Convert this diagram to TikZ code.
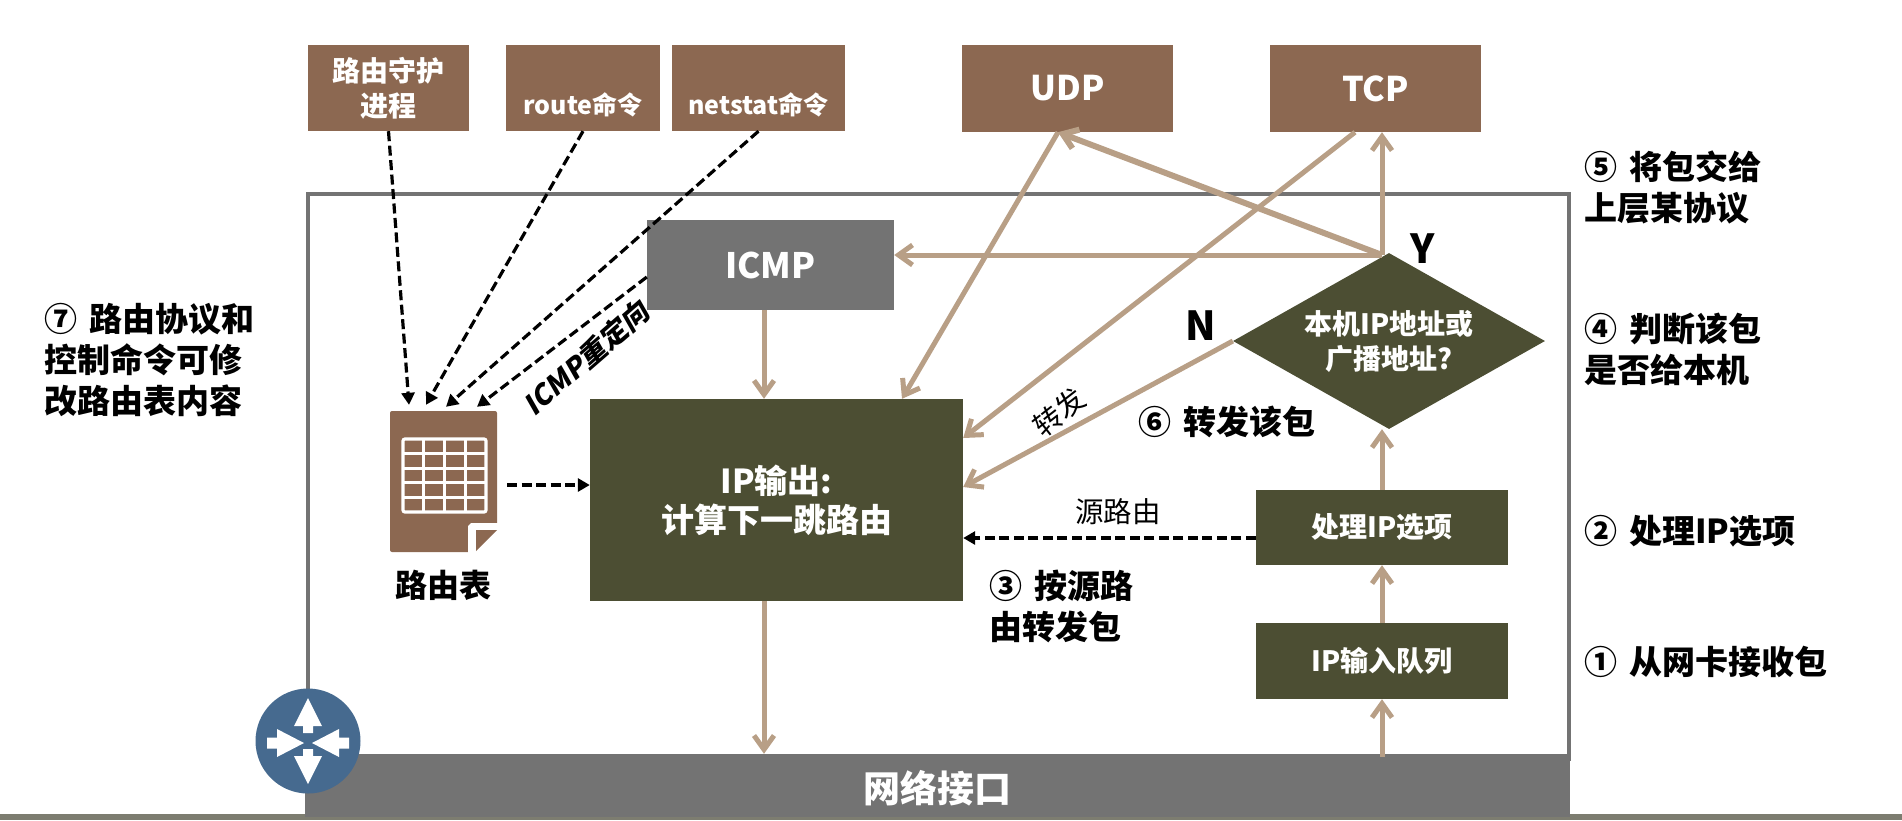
\documentclass[tikz,border=0pt]{standalone}
\usepackage{fontspec}
\setmainfont{Noto Sans CJK SC}
\usetikzlibrary{arrows.meta, shapes.geometric}

\definecolor{boxbrown}{HTML}{8C6851}
\definecolor{boxdark}{HTML}{4C4E33}
\definecolor{boxgray}{HTML}{737373}
\definecolor{groundgray}{HTML}{7D7D70}
\definecolor{linetan}{HTML}{B89F86}
\definecolor{routerblue}{HTML}{466A8F}

\tikzset{
    box/.style       = {rectangle, inner sep = 0pt, text = white, align = center, font = \bfseries\fontsize{28}{35}\selectfont},
    brownbox/.style  = {box, fill = boxbrown},
    darkbox/.style   = {box, fill = boxdark},
    graybox/.style   = {box, fill = boxgray},
    note/.style      = {inner sep = 0pt, align = left, anchor = west, font = \bfseries\fontsize{33}{41}\selectfont},
    edgelabel/.style = {inner sep = 0pt, font = \fontsize{28.5}{32}\selectfont},
    tanarrow/.style  = {draw = linetan, line width = 5pt, -{Straight Barb[length = 14pt, width = 20pt]}},
    dasharrow/.style = {draw = black, line width = 3.2pt, dash pattern = on 10pt off 4.5pt, -{Triangle[length = 12pt, width = 13pt]}},
    gridline/.style  = {draw = white, line width = 3.2pt}
}

\begin{document}
\begin{tikzpicture}[x = 1pt, y = -1pt]

    \useasboundingbox (0, 0) rectangle (1902, 820);

    % ground line and frame
    \path [fill = groundgray] (0, 814) rectangle (1902, 820);
    \path [draw = boxgray, line width = 4.3pt] (308, 194) rectangle (1569, 759);

    % upper boxes
    \node [brownbox, minimum width = 161pt, minimum height = 86pt] (daemon) at (388.5, 88) {路由守护\\进程};
    \node [brownbox, minimum width = 154pt, minimum height = 86pt, text height = 59pt, text depth = 6pt, font = \bfseries\fontsize{25}{30}\selectfont] (routecmd) at (583, 88) {route命令};
    \node [brownbox, minimum width = 173pt, minimum height = 86pt, text height = 59pt, text depth = 6pt, font = \bfseries\fontsize{25}{30}\selectfont] (netstatcmd) at (758.5, 88) {netstat命令};
    \node [brownbox, minimum width = 211pt, minimum height = 87pt, font = \bfseries\fontsize{34}{40}\selectfont] (udp) at (1067.5, 88.5) {UDP};
    \node [brownbox, minimum width = 211pt, minimum height = 87pt, font = \bfseries\fontsize{34}{40}\selectfont] (tcp) at (1375.5, 88.5) {TCP};

    % inner boxes
    \node [graybox, minimum width = 247pt, minimum height = 90pt, font = \bfseries\fontsize{35}{40}\selectfont] (icmp) at (770.5, 265) {ICMP};
    \node [darkbox, minimum width = 373pt, minimum height = 202pt, font = \bfseries\fontsize{33}{39}\selectfont] (ipout) at (776.5, 500) {IP输出:\\计算下一跳路由};
    \node [darkbox, diamond, aspect = 1.77, minimum width = 312pt, minimum height = 176pt] (check) at (1389, 341) {本机IP地址或\\广播地址?};
    \node [darkbox, minimum width = 252pt, minimum height = 75pt] (options) at (1382, 527.5) {处理IP选项};
    \node [darkbox, minimum width = 252pt, minimum height = 76pt] (inqueue) at (1382, 661) {IP输入队列};
    \node [graybox, minimum width = 1265pt, minimum height = 63pt, text height = 40pt, text depth = 7pt, font = \bfseries\fontsize{37}{40}\selectfont] (netif) at (937.5, 785.5) {网络接口};

    % routing table
    \node [rectangle, rounded corners = 2pt, fill = boxbrown, minimum width = 107pt, minimum height = 141pt, inner sep = 0pt] (rttable) at (443.5, 481.5) {};
    \path [fill = white] (468, 553) -- (468, 526) -- ++(3, -3) -- (498, 523) -- (498, 553) -- cycle;
    \path [fill = boxbrown] (476, 530) -- (497, 530) -- (476, 551) -- cycle;
    \path [gridline, rounded corners = 2pt] (403, 439) rectangle (486, 512);
    \foreach \i in {1, 2, 3}
        \path [gridline] (403 + 20.75 * \i, 439) -- ++(0, 73);
    \foreach \i in {1, 2, 3, 4}
        \path [gridline] (403, 439 + 14.6 * \i) -- ++(83, 0);
    \node [inner sep = 0pt, font = \bfseries\fontsize{32}{38}\selectfont] (rtlabel) at (443, 585) {路由表};

    % router
    \node [circle, fill = routerblue, minimum size = 105pt, inner sep = 0pt] (router) at (308, 741) {};
    \foreach \s in {1, -1}
        \path [fill = white, shift = {(router.center)}, yscale = \s]
            (0, -43) -- (14, -15) -- (5, -15) -- (5, -8) -- (-5, -8) -- (-5, -15) -- (-14, -15) -- cycle;
    \foreach \s in {1, -1}
        \path [fill = white, shift = {(router.center)}, xscale = \s]
            (-4, 2) -- (-31, -12) -- (-31, -3.5) -- (-41, -3.5) -- (-41, 7.5) -- (-31, 7.5) -- (-31, 16) -- cycle;

    % junction above the diamond
    \coordinate (yes) at (1382, 255);

    % tan arrows
    \draw [tanarrow] (yes) -- (yes |- tcp.south);
    \draw [tanarrow, line width = 6pt] (yes) -- ([xshift = -9.5pt]udp.south);
    \draw [tanarrow] (yes) -- (icmp.east |- yes);
    \draw [tanarrow] ([xshift = -9.5pt]udp.south) -- ([xshift = 125.5pt]ipout.north);
    \draw [tanarrow] ([xshift = -20.5pt]tcp.south) -- ([yshift = 62pt]ipout.east);
    \draw [tanarrow] (check.west) -- ([yshift = 13pt]ipout.east);
    \draw [tanarrow] ([xshift = -6.5pt]icmp.south) -- ([xshift = -12.5pt]ipout.north);
    \draw [tanarrow] ([xshift = -12.5pt]ipout.south) -- ([xshift = -12.5pt]ipout.south |- netif.north);
    \draw [tanarrow] (options.north) -- (options.north |- check.south);
    \draw [tanarrow] (inqueue.north) -- (options.south);
    \draw [tanarrow] ([yshift = -3pt]inqueue.south |- netif.north) -- (inqueue.south);

    % dashed arrows
    \draw [dasharrow] (daemon.south) -- ([xshift = -34.5pt, yshift = 6pt]rttable.north);
    \draw [dasharrow] (routecmd.south) -- ([xshift = -17.5pt, yshift = 6pt]rttable.north);
    \draw [dasharrow] (netstatcmd.south) -- ([xshift = 2.5pt, yshift = 4pt]rttable.north);
    \draw [dasharrow] ([yshift = -12pt]icmp.west) -- ([xshift = 33.5pt, yshift = 4pt]rttable.north);
    \draw [dasharrow] ([xshift = 10pt, yshift = -3.5pt]rttable.east) -- ([yshift = 15pt]ipout.west);
    \draw [dasharrow] ([yshift = -10.5pt]options.west) -- ([yshift = -38pt]ipout.east);

    % connector labels
    \node [edgelabel, rotate = 41, font = \bfseries\fontsize{28}{32}\selectfont\addfontfeatures{FakeSlant = 0.2}] (redirect) at (586, 358) {ICMP重定向};
    \node [edgelabel, rotate = 38] (forward) at (1059, 412) {转发};
    \node [edgelabel] (srcroute) at (1118, 512) {源路由};
    \node [inner sep = 0pt, font = \bfseries\fontsize{40}{44}\selectfont] (yeslabel) at (1423, 249) {Y};
    \node [inner sep = 0pt, font = \bfseries\fontsize{40}{44}\selectfont] (nolabel) at (1201, 326) {N};

    % notes
    \node [note] (step7) at (44, 360) {⑦\hspace{12pt}路由协议和\\控制命令可修\\改路由表内容};
    \node [note] (step5) at (1584, 187.5) {⑤\hspace{12pt}将包交给\\上层某协议};
    \node [note] (step4) at (1584, 349) {④\hspace{12pt}判断该包\\是否给本机};
    \node [note] (step2) at (1584, 531) {②\hspace{12pt}处理IP选项};
    \node [note] (step1) at (1584, 662) {①\hspace{12pt}从网卡接收包};
    \node [note] (step3) at (989, 606.5) {③\hspace{12pt}按源路\\由转发包};
    \node [note] (step6) at (1138, 422) {⑥\hspace{12pt}转发该包};

\end{tikzpicture}
\end{document}
